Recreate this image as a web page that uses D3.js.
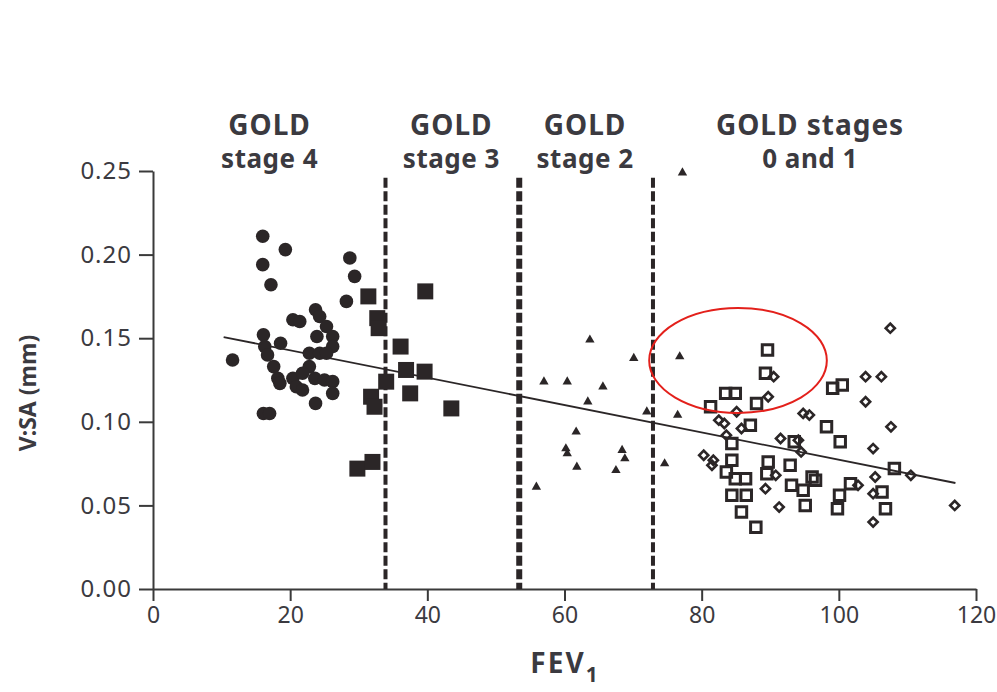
<!DOCTYPE html>
<html>
<head>
<meta charset="UTF-8">
<title>V:SA by FEV1</title>
<style>
body { margin: 0; background: white; }
text { font-family: "Noto Sans", sans-serif; fill: #3b3a40; }
</style>
</head>
<script src="https://d3js.org/d3.v7.min.js"></script>
<body>
<script type="text/javascript">
// [FEV1, V:SA]
var stage4 = [[16.0,0.211],[19.3,0.203],[16.0,0.194],[17.2,0.182],[28.7,0.198],[29.4,0.187],
  [28.2,0.172],[23.7,0.167],[24.3,0.163],[25.3,0.157],[20.4,0.161],[21.4,0.160],[16.1,0.152],
  [16.3,0.145],[16.7,0.140],[18.6,0.147],[23.9,0.151],[26.2,0.151],[26.2,0.145],[11.6,0.137],
  [22.8,0.141],[24.3,0.141],[25.3,0.141],[17.6,0.133],[18.2,0.126],[22.8,0.133],[20.4,0.126],
  [21.8,0.129],[20.9,0.121],[21.8,0.119],[23.6,0.126],[25.0,0.125],[26.2,0.124],[26.2,0.117],
  [23.7,0.111],[16.1,0.105],[17.0,0.105],[18.5,0.123]]
var stage3 = [[31.4,0.175],[39.7,0.178],[32.7,0.162],[32.9,0.156],[36.1,0.145],[36.9,0.131],
  [39.6,0.130],[34.0,0.124],[37.5,0.117],[31.8,0.115],[32.3,0.109],[43.5,0.108],[29.8,0.072],
  [32.0,0.076]]
var stage2 = [[77.2,0.249],[63.7,0.149],[70.1,0.138],[76.8,0.139],[57.0,0.124],[60.4,0.124],
  [65.6,0.121],[63.4,0.112],[72.0,0.106],[76.5,0.104],[61.7,0.094],[60.2,0.084],[60.4,0.081],
  [68.4,0.083],[68.8,0.078],[61.8,0.073],[67.5,0.071],[74.6,0.075],[55.9,0.061]]
var stage01Squares = [[89.6,0.143],[89.3,0.129],[83.5,0.117],[84.9,0.117],[81.3,0.109],[88.0,0.111],
  [87.1,0.098],[84.4,0.087],[84.4,0.077],[93.5,0.088],[89.7,0.076],[89.5,0.069],[92.9,0.074],
  [83.6,0.070],[84.9,0.066],[86.4,0.066],[93.1,0.062],[94.8,0.059],[96.1,0.067],[84.4,0.056],
  [86.5,0.056],[95.1,0.050],[85.8,0.046],[87.9,0.037],[99.1,0.120],[100.5,0.122],[98.2,0.097],
  [100.2,0.088],[108.1,0.072],[101.7,0.063],[100.1,0.056],[99.8,0.048],[106.3,0.058],
  [106.8,0.048],[96.6,0.065]]
var stage01Diamonds = [[107.5,0.156],[103.9,0.127],[106.2,0.127],[90.5,0.127],[89.7,0.115],
  [103.9,0.112],[85.1,0.106],[82.5,0.101],[83.3,0.099],[85.8,0.096],[94.8,0.105],[95.7,0.104],
  [83.6,0.092],[91.5,0.090],[94.1,0.089],[94.5,0.082],[80.3,0.080],[81.7,0.077],[81.5,0.074],
  [90.8,0.068],[89.3,0.060],[91.3,0.049],[107.6,0.097],[105.0,0.084],[102.8,0.062],
  [105.3,0.067],[105.0,0.057],[105.0,0.040],[110.5,0.068],[116.9,0.050]]

var cutoffs = [33.9, 53.4, 72.9]
var cutoffWidths = [4, 6, 4]
var stageNames = [["GOLD","stage 4"],["GOLD","stage 3"],["GOLD","stage 2"],["GOLD stages","0 and 1"]]
var stageCenters = [17, 43.5, 63, 95.8]
var fitX = [10.3, 117]
var fitIntercept = 0.1591, fitSlope = -0.000818
var xTicks = [0,20,40,60,80,100,120]
var yTicks = [0,0.05,0.10,0.15,0.20,0.25]
var circled = {cx: 85.3, cy: 0.1367, rx: 12.95, ry: 0.0314}

var ink = "#2b2627"
var svg = d3.select("body")
  .append("svg")
  .attr("width", 997)
  .attr("height", 692)

var x = d3.scaleLinear().domain([0,120]).range([153,976])
var y = d3.scaleLinear().domain([0,0.25]).range([589,171])

// axes
svg.append("g")
  .attr("class", "xaxis")
  .attr("transform", "translate(0," + y(0) + ")")
  .call(d3.axisBottom(x).tickValues(xTicks).tickSize(12).tickSizeOuter(0).tickPadding(6))
svg.append("g")
  .attr("class", "yaxis")
  .attr("transform", "translate(" + x(0) + ",0)")
  .call(d3.axisLeft(y).tickValues(yTicks).tickFormat(d3.format(".2f")).tickSize(14).tickSizeOuter(0).tickPadding(7))
svg.selectAll(".tick text")
  .style("font-size", "24px")
  .style("font-family", "'Noto Sans', sans-serif")
  .attr("fill", "#3b3a40")
svg.selectAll(".yaxis .tick text").style("letter-spacing", "1px")
svg.selectAll(".xaxis .tick text").style("font-size", "23px")
svg.selectAll(".domain, .tick line").attr("stroke", "#3a3a3a").attr("stroke-width", 2)

// GOLD cut-offs
svg.selectAll(".cut")
  .data(cutoffs).enter()
  .append("line")
  .attr("x1", function(d) {return x(d)})
  .attr("x2", function(d) {return x(d)})
  .attr("y1", y(0.246))
  .attr("y2", y(0))
  .attr("stroke", ink)
  .attr("stroke-width", function(d,i) {return cutoffWidths[i]})
  .attr("stroke-dasharray", "10,3.5")

// regression line
svg.append("line")
  .attr("x1", x(fitX[0])).attr("y1", y(fitIntercept + fitSlope*fitX[0]))
  .attr("x2", x(fitX[1])).attr("y2", y(fitIntercept + fitSlope*fitX[1]))
  .attr("stroke", ink).attr("stroke-width", 1.8)

// points
svg.selectAll(".s4").data(stage4).enter().append("circle")
  .attr("cx", function(d) {return x(d[0])})
  .attr("cy", function(d) {return y(d[1])})
  .attr("r", 6.8).attr("fill", ink)

svg.selectAll(".s3").data(stage3).enter().append("path")
  .attr("d", d3.symbol().type(d3.symbolSquare).size(256))
  .attr("transform", function(d) {return "translate(" + x(d[0]) + "," + y(d[1]) + ")"})
  .attr("fill", ink)

svg.selectAll(".s2").data(stage2).enter().append("path")
  .attr("d", d3.symbol().type(d3.symbolTriangle).size(38))
  .attr("transform", function(d) {return "translate(" + x(d[0]) + "," + y(d[1]) + ")"})
  .attr("fill", ink)

svg.selectAll(".s01d").data(stage01Diamonds).enter().append("path")
  .attr("d", d3.symbol().type(d3.symbolSquare).size(42))
  .attr("transform", function(d) {return "translate(" + x(d[0]) + "," + y(d[1]) + ") rotate(45)"})
  .attr("fill", "none").attr("stroke", ink).attr("stroke-width", 2.6)

svg.selectAll(".s01s").data(stage01Squares).enter().append("path")
  .attr("d", d3.symbol().type(d3.symbolSquare).size(110))
  .attr("transform", function(d) {return "translate(" + x(d[0]) + "," + y(d[1]) + ")"})
  .attr("fill", "none").attr("stroke", ink).attr("stroke-width", 3)

// red ellipse
svg.append("ellipse")
  .attr("cx", x(circled.cx)).attr("cy", y(circled.cy))
  .attr("rx", x(circled.rx) - x(0)).attr("ry", y(0) - y(circled.ry))
  .attr("fill", "none").attr("stroke", "#e3201b").attr("stroke-width", 2)

// stage headers
var heads = svg.selectAll(".head").data(stageNames).enter().append("g")
heads.append("text")
  .attr("x", function(d,i) {return x(stageCenters[i])})
  .attr("y", 135)
  .attr("text-anchor", "middle")
  .style("font-size", "28px").style("font-weight", 700).style("letter-spacing", "1px")
  .text(function(d) {return d[0]})
heads.append("text")
  .attr("x", function(d,i) {return x(stageCenters[i])})
  .attr("y", 168)
  .attr("text-anchor", "middle")
  .style("font-size", "26px").style("font-weight", 700).style("letter-spacing", "0.5px")
  .text(function(d) {return d[1]})

// axis titles
var fev = svg.append("text")
  .attr("x", 565).attr("y", 673)
  .attr("text-anchor", "middle")
  .style("font-size", "28px").style("font-weight", 700).style("letter-spacing", "2px")
fev.append("tspan").text("FEV")
fev.append("tspan").attr("dy", 9).style("font-size", "21px").text("1")

svg.append("text")
  .attr("transform", "translate(36,393) rotate(-90)")
  .attr("text-anchor", "middle")
  .style("font-size", "23px").style("font-weight", 700)
  .text("V:SA (mm)")
</script>
</body>
</html>
